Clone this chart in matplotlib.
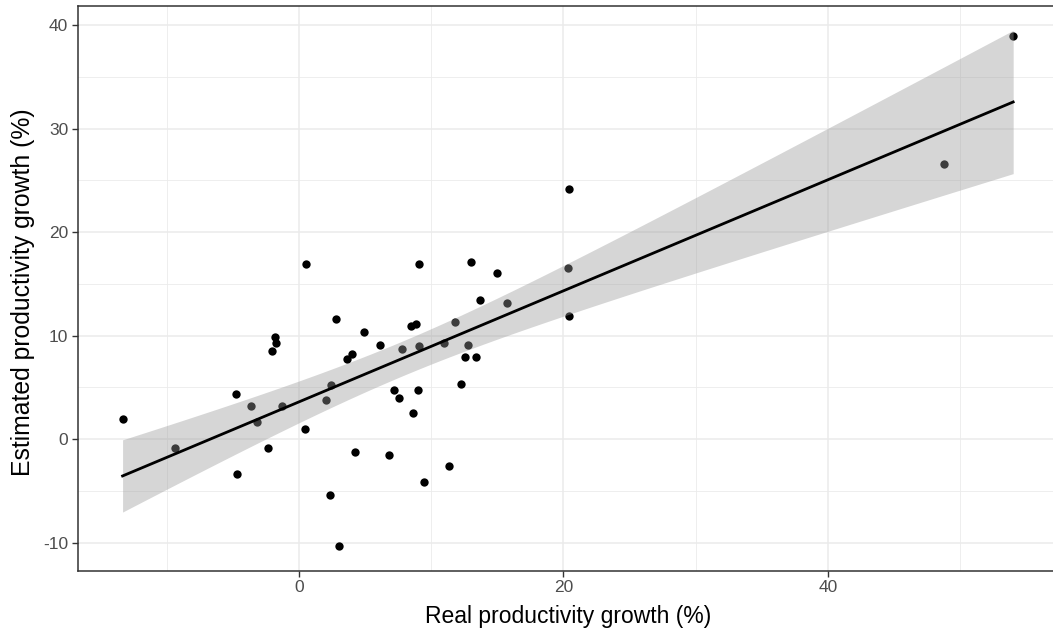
import numpy as np
import matplotlib.pyplot as plt

# real vs estimated productivity growth (%)
real = [-13.33, -9.40, -4.78, -4.65, -3.62, -3.13, -2.30, -2.05, -1.82, -1.70,
        -1.25, 0.43, 0.55, 2.05, 2.35, 2.42, 2.83, 3.05, 3.62, 3.98,
        4.24, 4.95, 6.13, 6.83, 7.20, 7.55, 7.78, 8.48, 8.63, 8.87,
        8.98, 9.10, 9.10, 9.45, 11.01, 11.35, 11.83, 12.28, 12.53, 12.78,
        12.98, 13.38, 13.71, 15.00, 15.72, 20.38, 20.46, 20.46, 48.81, 54.01]
estimated = [1.96, -0.80, 4.41, -3.39, 3.19, 1.64, -0.80, 8.53, 9.92, 9.27,
             3.22, 1.03, 16.97, 3.80, -5.38, 5.22, 11.62, -10.28, 7.76, 8.21,
             -1.26, 10.40, 9.14, -1.55, 4.73, 3.96, 8.72, 10.98, 2.57, 11.17,
             4.73, 9.01, 16.97, -4.16, 9.27, -2.61, 11.33, 5.35, 7.95, 9.14,
             17.13, 7.95, 13.47, 16.07, 13.17, 16.52, 24.15, 11.95, 26.63, 39.00]
x_ticks = [0, 20, 40]
y_ticks = [-10, 0, 10, 20, 30, 40]

x = np.array(real)
y = np.array(estimated)

# linear fit with 95% confidence band (like geom_smooth(method="lm"))
n = len(x)
slope, intercept = np.polyfit(x, y, 1)
resid = y - (intercept + slope * x)
s = np.sqrt(np.sum(resid ** 2) / (n - 2))
sxx = np.sum((x - x.mean()) ** 2)
t = 2.0106
xs = np.linspace(x.min(), x.max(), 80)
fit = intercept + slope * xs
se = s * np.sqrt(1 / n + (xs - x.mean()) ** 2 / sxx)

plt.rcParams['font.family'] = ['Liberation Sans', 'DejaVu Sans']
plt.rcParams['axes.unicode_minus'] = False

fig = plt.figure(figsize=(10.53, 6.28), dpi=100)
ax = fig.add_axes([78 / 1053, 57.5 / 628, 980 / 1053, 565 / 628])

ax.scatter(x, y, s=36, color='black', linewidths=0, zorder=2)
ax.fill_between(xs, fit - t * se, fit + t * se, color='#999999', alpha=0.4,
                linewidth=0, zorder=3)
ax.plot(xs, fit, color='black', linewidth=2, zorder=4)

ax.set_xlim(-16.7, 57.4)
ax.set_ylim(-12.68, 41.9)
ax.set_xticks(x_ticks)
ax.set_yticks(y_ticks)
ax.set_xticks([-10, 10, 30, 50], minor=True)
ax.set_yticks([-5, 5, 15, 25, 35], minor=True)
ax.grid(which='major', color='#ebebeb', linewidth=1.1, zorder=0)
ax.grid(which='minor', color='#ebebeb', linewidth=0.6, zorder=0)
ax.set_axisbelow(True)

for sp in ax.spines.values():
    sp.set_color('#333333')
    sp.set_linewidth(1.1)

ax.tick_params(which='major', length=4, width=1, color='#333333',
               labelsize=12.5, labelcolor='#4d4d4d', pad=3)
ax.tick_params(which='minor', length=0)

ax.set_xlabel('Real productivity growth (%)', fontsize=16.5)
ax.xaxis.set_label_coords(0.5, (570.5 - 617) / 565)
ax.xaxis.label.set_va('center')
ax.set_ylabel('Estimated productivity growth (%)', fontsize=17.8)
ax.yaxis.set_label_coords((23 - 78) / 980, (570.5 - 292) / 565)
ax.yaxis.label.set_va('center')

fig.savefig('out.png', dpi=100)
